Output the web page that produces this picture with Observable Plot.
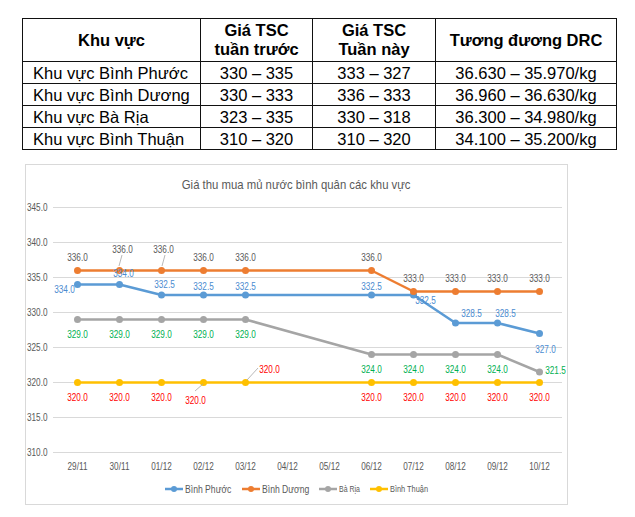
<!DOCTYPE html>
<html><head><meta charset="utf-8">
<script src="https://cdn.jsdelivr.net/npm/d3@7"></script>
<script src="https://cdn.jsdelivr.net/npm/@observablehq/plot@0.6"></script>
<style>
body{margin:0;background:#fff;width:635px;height:517px;position:relative;overflow:hidden;font-family:"Liberation Sans",Arial,sans-serif;}
#tbl{position:absolute;left:22px;top:18px;border-collapse:collapse;font-size:16.5px;color:#000;}
#tbl td,#tbl th{border:1.5px solid #111;padding:0;height:21px;line-height:20px;white-space:nowrap;}
#tbl th{font-weight:bold;line-height:19px;height:42px;text-align:center;}
#tbl td{text-align:center;}
#tbl td.first{text-align:left;padding-left:10px;}
#box{position:absolute;left:25px;top:164px;width:543px;height:341px;border:1px solid #d9d9d9;box-sizing:border-box;}
#chart{position:absolute;left:0px;top:164px;}
#title{position:absolute;left:25px;top:177px;width:543px;text-align:center;font-size:13.5px;color:#595959;}
#title span{display:inline-block;transform:scaleX(0.84);transform-origin:50% 50%;}
#legend{position:absolute;left:25px;top:483px;width:543px;display:flex;justify-content:center;gap:10px;color:#595959;align-items:center;}
.li{display:flex;align-items:center;gap:2px;}
.li span{display:inline-block;transform:scaleX(0.82);transform-origin:0 50%;white-space:nowrap;}
</style></head>
<body>
<table id="tbl"></table>
<div id="box"></div>
<div id="chart"></div>
<div id="title"><span></span></div>
<div id="legend"></div>
<script>
// ---- table data ----
const tableHeaders = ["Khu vực", "Giá TSC<br>tuần trước", "Giá TSC<br>Tuần này", "Tương đương DRC"];
const tableRegions = ["Khu vực Bình Phước", "Khu vực Bình Dương", "Khu vực Bà Rịa", "Khu vực Bình Thuận"];
const tablePrevWeek = ["330 – 335", "330 – 333", "323 – 335", "310 – 320"];
const tableThisWeek = ["333 – 327", "336 – 333", "330 – 318", "310 – 320"];
const tableDRC = ["36.630 – 35.970/kg", "36.960 – 36.630/kg", "36.300 – 34.980/kg", "34.100 – 35.200/kg"];

// ---- chart data ----
const chartTitle = "Giá thu mua mủ nước bình quân các khu vực";
const dates = ["29/11","30/11","01/12","02/12","03/12","04/12","05/12","06/12","07/12","08/12","09/12","10/12"];
const binhPhuoc = [334.0, 334.0, 332.5, 332.5, 332.5, null, null, 332.5, 332.5, 328.5, 328.5, 327.0];
const binhDuong = [336.0, 336.0, 336.0, 336.0, 336.0, null, null, 336.0, 333.0, 333.0, 333.0, 333.0];
const baRia     = [329.0, 329.0, 329.0, 329.0, 329.0, null, null, 324.0, 324.0, 324.0, 324.0, 321.5];
const binhThuan = [320.0, 320.0, 320.0, 320.0, 320.0, null, null, 320.0, 320.0, 320.0, 320.0, 320.0];
const seriesNames = ["Bình Phước", "Bình Dương", "Bà Rịa", "Bình Thuận"];
const yTicks = [310, 315, 320, 325, 330, 335, 340, 345];

// ---- build table ----
const tbl = document.getElementById("tbl");
const colW = [177, 111, 122, 180];
let html = "<tr>" + tableHeaders.map((h,i)=>`<th style="width:${colW[i]}px">${h}</th>`).join("") + "</tr>";
tableRegions.forEach((r,i)=>{
  html += `<tr><td class="first">${r}</td><td>${tablePrevWeek[i]}</td><td>${tableThisWeek[i]}</td><td>${tableDRC[i]}</td></tr>`;
});
tbl.innerHTML = html;

// ---- styles (not data) ----
const seriesValues = [binhPhuoc, binhDuong, baRia, binhThuan];
const lineColors = ["#5B9BD5", "#ED7D31", "#A5A5A5", "#FFC000"];
const labelColors = ["#4A8BD0", "#595959", "#00B050", "#FF0000"];
const labelPos = [
  {d:[0,-8], at:{"29/11":[-13,5],"30/11":[4,-11],"01/12":[3,-10],"07/12":[12,6],"08/12":[16,-9],"09/12":[8,-9],"10/12":[6,16]}},
  {d:[0,-13], at:{"30/11":[3,-21],"01/12":[2,-21]}},
  {d:[0,15], at:{"10/12":[16,-1]}},
  {d:[0,15], at:{"02/12":[-8,18],"03/12":[24,-13]}}
];
const leaders = [
  {s:1, date:"30/11", a:[0,-4], b:[3,-15]},
  {s:1, date:"01/12", a:[1,-4], b:[4,-15]},
  {s:3, date:"02/12", a:[0,2], b:[-8,9]},
  {s:3, date:"03/12", a:[2,-2], b:[13,-14]}
];

const rows = seriesNames.map((name, s) =>
  dates.map((date, i) => ({series: name, s, date, value: seriesValues[s][i]})).filter(d => d.value != null)
);

const marks = [
  Plot.gridY(yTicks, {stroke: "#d9d9d9", strokeOpacity: 1, strokeWidth: 1}),
  Plot.axisY(yTicks, {tickSize: 0, tickPadding: 6, tickFormat: d => d.toFixed(1), fill: "#595959", fontSize: 10}),
  Plot.axisX({tickSize: 0, tickPadding: 10, fill: "#595959", fontSize: 10})
];
rows.forEach((data, s) => {
  marks.push(Plot.line(data, {x: "date", y: "value", stroke: lineColors[s], strokeWidth: 2.5}));
  marks.push(Plot.dot(data, {x: "date", y: "value", fill: lineColors[s], r: 3.5}));
});
// leader lines via function mark using the plot's scales
marks.push((index, scales) => {
  const g = d3.create("svg:g");
  leaders.forEach(L => {
    const v = seriesValues[L.s][dates.indexOf(L.date)];
    const px = scales.x(L.date), py = scales.y(v);
    g.append("line").attr("x1", px + L.a[0]).attr("y1", py + L.a[1])
      .attr("x2", px + L.b[0]).attr("y2", py + L.b[1])
      .attr("stroke", "#a6a6a6").attr("stroke-width", 0.8);
  });
  return g.node();
});
rows.forEach((data, s) => {
  data.forEach(d => {
    const off = labelPos[s].at[d.date] || labelPos[s].d;
    marks.push(Plot.text([d], {x: "date", y: "value", text: d => d.value.toFixed(1),
      dx: off[0], dy: off[1], fill: labelColors[s], fontSize: 10}));
  });
});

const chart = Plot.plot({
  width: 568, height: 341,
  marginLeft: 53, marginRight: 6, marginTop: 43, marginBottom: 53,
  x: {type: "point", domain: dates, padding: 0.5, label: null},
  y: {domain: [310, 345], label: null},
  style: {fontFamily: "'Liberation Sans',Arial,sans-serif", fontSize: "10px", color: "#595959", background: "transparent"},
  marks
});
document.getElementById("chart").appendChild(chart);

// condense chart texts (Calibri-like narrow look) by wrapping each text in a scaled group
const NS = "http://www.w3.org/2000/svg";
chart.querySelectorAll("text").forEach(t => {
  const anchor = getComputedStyle(t).textAnchor;
  const g = document.createElementNS(NS, "g");
  t.parentNode.insertBefore(g, t);
  g.appendChild(t);
  g.style.transformBox = "fill-box";
  g.style.transformOrigin = anchor === "end" ? "100% 50%" : anchor === "start" ? "0% 50%" : "50% 50%";
  g.style.transform = "scaleX(0.82)";
});

document.querySelector("#title span").textContent = chartTitle;

// legend
const legendSizes = [10.5, 10.5, 8.5, 9];
const legend = document.getElementById("legend");
seriesNames.forEach((n, s) => {
  const el = document.createElement("div");
  el.className = "li";
  el.innerHTML = `<svg width="18" height="8"><line x1="0" x2="18" y1="4" y2="4" stroke="${lineColors[s]}" stroke-width="2.5"/><circle cx="9" cy="4" r="3" fill="${lineColors[s]}"/></svg><span style="font-size:${legendSizes[s]}px">${n}</span>`;
  legend.appendChild(el);
  const sp = el.querySelector("span");
  sp.style.marginRight = (-0.18 * sp.offsetWidth) + "px";
});
</script>
</body></html>
